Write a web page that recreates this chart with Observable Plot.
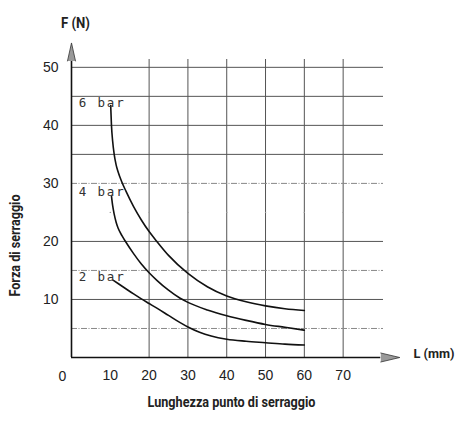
<!DOCTYPE html>
<html>
<head>
<meta charset="utf-8">
<script src="https://cdn.jsdelivr.net/npm/d3@7"></script>
<script src="https://cdn.jsdelivr.net/npm/@observablehq/plot@0.6"></script>
<style>
  html, body { margin: 0; padding: 0; background: #fff; }
</style>
</head>
<body>
<div id="chart"></div>
<script>
// ---- data ----
const seriesNames = ["6 bar", "4 bar", "2 bar"];
const L6 = [10.1, 10.3, 10.6, 11, 11.5, 12, 13, 14, 16, 18, 20, 22, 25, 30, 35, 40, 45, 50, 55, 60];
const F6 = [43.4, 40.0, 37.3, 35.0, 33.2, 32.0, 30.2, 28.7, 26.0, 23.7, 21.7, 20.0, 17.6, 14.5, 12.2, 10.6, 9.6, 8.9, 8.4, 8.1];
const L4 = [10.3, 10.6, 11, 11.5, 12, 13, 14, 16, 18, 20, 22, 25, 28, 30, 35, 40, 45, 50, 55, 60];
const F4 = [27.8, 26.2, 24.7, 23.3, 22.3, 21.0, 19.9, 17.9, 16.1, 14.6, 13.3, 11.6, 10.2, 9.5, 8.2, 7.2, 6.4, 5.7, 5.2, 4.7];
const L2 = [10.8, 12, 14, 16, 18, 20, 22, 25, 28, 30, 33, 36, 40, 45, 50, 55, 60];
const F2 = [13.3, 12.75, 11.85, 10.95, 10.1, 9.3, 8.5, 7.25, 6.0, 5.25, 4.35, 3.7, 3.15, 2.8, 2.55, 2.3, 2.15];

const labelL = [1.9, 1.9, 1.9];
const labelF = [43.8, 28.6, 13.9];

const xTicks = [10, 20, 30, 40, 50, 60, 70];
const xZero = [0];
const yTicks = [10, 20, 30, 40, 50];
const gridX = [20, 30, 40, 50, 60, 70];
const gridSolidY = [10, 20, 35, 40, 45, 50];
const gridDashedY = [5, 15, 30];
const gridFaintY = [25];
const faintDotsX = [10, 20, 30, 40, 50, 60, 70];

const xArrowBase = 79.7;   // end of L axis line (arrow base)
const yArrowBase = 51.1;   // end of F axis line (arrow base)

const titleF = "F (N)";
const titleL = "L (mm)";
const titleY = "Forza di serraggio";
const titleX = "Lunghezza punto di serraggio";

// ---- build tables ----
const curveRows = [
  ...L6.map((l, i) => ({series: seriesNames[0], L: l, F: F6[i]})),
  ...L4.map((l, i) => ({series: seriesNames[1], L: l, F: F4[i]})),
  ...L2.map((l, i) => ({series: seriesNames[2], L: l, F: F2[i]}))
];
const labelRows = seriesNames.map((s, i) => ({text: s, L: labelL[i], F: labelF[i]}));
const faintDots = faintDotsX.flatMap(x => gridFaintY.map(y => ({x, y})));

const numFont = "'Liberation Sans', Arial, sans-serif";
const titleFont = "Roboto, 'Noto Sans', sans-serif";

const chart = Plot.plot({
  width: 459,
  height: 431,
  marginLeft: 71,
  marginRight: 76,
  marginTop: 59,
  marginBottom: 74,
  style: {fontFamily: numFont, fontSize: "14px", color: "#222", background: "#fff"},
  x: {domain: [0, 80.4], ticks: xTicks, tickSize: 0, tickPadding: 13, tickFormat: d => String(d), label: null},
  y: {domain: [0, 51.35], ticks: yTicks, tickSize: 0, tickPadding: 13, tickFormat: d => String(d), label: null},
  marks: [
    // grid
    Plot.ruleX(gridX, {stroke: "#555", strokeWidth: 1}),
    Plot.ruleY(gridSolidY, {stroke: "#555", strokeWidth: 1}),
    Plot.ruleY(gridDashedY, {stroke: "#888", strokeWidth: 1, strokeDasharray: "6,1.5,1,1.5"}),
    Plot.dot(faintDots, {x: "x", y: "y", r: 0.7, fill: "#999", stroke: null}),
    // axes with arrows
    Plot.ruleY([0], {x1: 0, x2: xArrowBase, stroke: "#111", strokeWidth: 1.6}),
    Plot.ruleX([0], {y1: 0, y2: yArrowBase, stroke: "#111", strokeWidth: 1.6}),
    Plot.vector([xArrowBase], {x: d => d, y: 0, rotate: 90, length: 19, r: 4.5, shape: "spike", anchor: "start", fill: "#999", stroke: "#333", strokeWidth: 0.8}),
    Plot.vector([yArrowBase], {x: 0, y: d => d, rotate: 0, length: 18, r: 4, shape: "spike", anchor: "start", fill: "#999", stroke: "#333", strokeWidth: 0.8}),
    // curves
    Plot.line(curveRows, {x: "L", y: "F", z: "series", curve: "monotone-x", stroke: "#111", strokeWidth: 1.6}),
    // curve labels
    Plot.text(labelRows, {x: "L", y: "F", text: "text", textAnchor: "start", fontFamily: "'DejaVu Sans Mono', monospace", fontSize: 12.5, fill: "#333"}),
    // origin label
    Plot.text(xZero, {x: d => d, y: 0, text: d => String(d), dx: -9, dy: 19, fontFamily: numFont, fontSize: 14, fill: "#222"}),
    // titles
    Plot.text([titleF], {frameAnchor: "top-left", text: d => d, textAnchor: "middle", dx: 4, dy: -42, fontFamily: titleFont, fontSize: 15, fontWeight: "bold", fill: "#222"}),
    Plot.text([titleL], {frameAnchor: "bottom-right", text: d => d, textAnchor: "start", dx: 30, dy: 0, fontFamily: titleFont, fontSize: 13.5, fontWeight: "bold", fill: "#222"}),
    Plot.text([titleY], {frameAnchor: "left", text: d => d, textAnchor: "middle", rotate: -90, dx: -56, dy: 37, fontFamily: titleFont, fontSize: 14, fontWeight: "bold", fill: "#222"}),
    Plot.text([titleX], {frameAnchor: "bottom", text: d => d, textAnchor: "middle", dx: 4, dy: 49, fontFamily: titleFont, fontSize: 14, fontWeight: "bold", fill: "#222"})
  ]
});

// condense the title texts to the narrow widths of the reference,
// and space out the curve labels like the lettering of the drawing
const condensed = new Map([[titleF, 29], [titleL, 41], [titleY, 102], [titleX, 168]]);
chart.querySelectorAll("text").forEach(t => {
  const w = condensed.get(t.textContent);
  if (w) {
    t.setAttribute("textLength", w);
    t.setAttribute("lengthAdjust", "spacingAndGlyphs");
  }
  if (seriesNames.includes(t.textContent)) {
    t.setAttribute("letter-spacing", "1.8");
  }
});
document.getElementById("chart").appendChild(chart);
</script>
</body>
</html>
